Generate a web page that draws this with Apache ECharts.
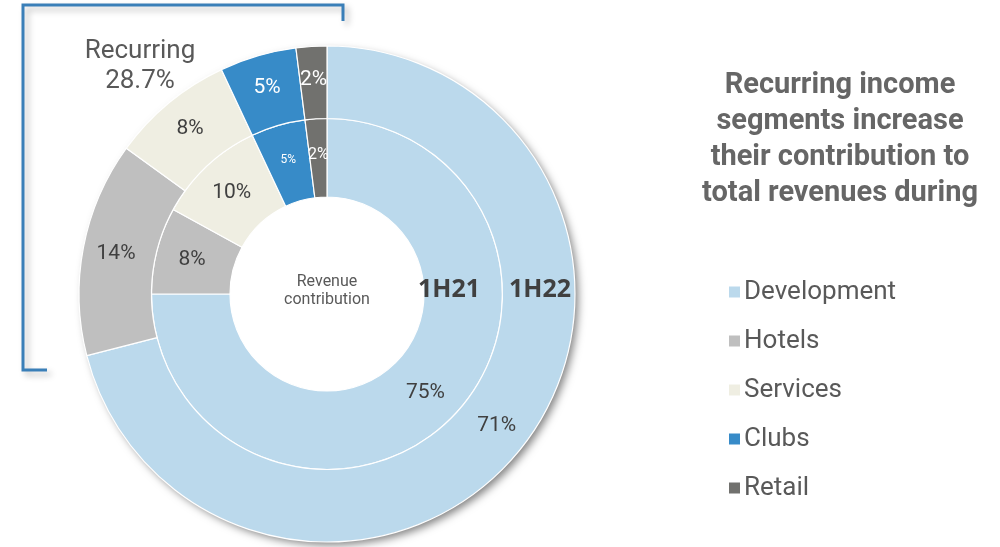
<!DOCTYPE html>
<html>
<head>
<meta charset="utf-8">
<title>Revenue contribution</title>
<script src="https://cdn.jsdelivr.net/npm/echarts@6/dist/echarts.min.js"></script>
<style>
  html, body { margin: 0; padding: 0; background: #ffffff; }
  #chart { width: 1000px; height: 547px; }
</style>
</head>
<body>
<div id="chart"></div>
<script>
// Segments and their share of revenue (%)
const segments = ['Development', 'Hotels', 'Services', 'Clubs', 'Retail'];
const share1H22 = [71, 14, 8, 5, 2];
const share1H21 = [75, 8, 10, 5, 2];
const periods = ['1H21', '1H22'];
const recurringShare = 28.7;

const colors = ['#BBD9EC', '#BFBFBF', '#EFEEE2', '#378BC8', '#71716E'];
const darkText = '#404040';
const greyText = '#595959';

const center = [327, 294];

function ringData(values, sizes) {
  return segments.map((name, i) => {
    const light = i < 3;
    return {
      name,
      value: values[i],
      label: {
        color: light ? darkText : '#ffffff',
        fontSize: sizes[i]
      }
    };
  });
}

const chart = echarts.init(document.getElementById('chart'), null, { renderer: 'canvas' });

chart.setOption({
  animation: false,
  color: colors,
  legend: {
    orient: 'vertical',
    left: 722,
    top: 274,
    itemWidth: 13,
    itemHeight: 13,
    itemGap: 23,
    icon: 'rect',
    data: segments,
    textStyle: {
      fontFamily: 'Roboto',
      fontSize: 26,
      color: greyText,
      padding: [0, 0, 0, -2]
    }
  },
  graphic: [
    // soft shadow behind the outer ring
    {
      type: 'circle',
      shape: { cx: center[0], cy: center[1], r: 247 },
      style: {
        fill: '#ffffff',
        shadowBlur: 8,
        shadowOffsetX: 4,
        shadowOffsetY: 4,
        shadowColor: 'rgba(0,0,0,0.5)'
      },
      z: 0
    },
    // bracket around the recurring segments
    {
      type: 'polyline',
      shape: { points: [[343, 21], [343, 5], [23, 5], [23, 370], [47, 370]] },
      style: {
        stroke: '#3A7FB8',
        lineWidth: 3,
        fill: null,
        shadowBlur: 6,
        shadowOffsetX: 4,
        shadowOffsetY: 4,
        shadowColor: 'rgba(0,0,0,0.25)'
      },
      z: 10
    },
    {
      type: 'text',
      style: {
        text: 'Recurring\n' + recurringShare + '%',
        x: 140, y: 36,
        textAlign: 'center',
        fontFamily: 'Roboto',
        fontSize: 26,
        lineHeight: 30,
        fill: greyText
      },
      z: 10
    },
    {
      type: 'text',
      style: {
        text: 'Revenue\ncontribution',
        x: center[0], y: 273,
        textAlign: 'center',
        fontFamily: 'Roboto',
        fontSize: 16,
        lineHeight: 18,
        fill: greyText
      },
      z: 10
    },
    {
      type: 'text',
      style: {
        text: periods[0],
        x: 449, y: 290,
        textAlign: 'center',
        textVerticalAlign: 'middle',
        fontFamily: 'Open Sans',
        fontWeight: 'bold',
        fontSize: 25,
        fill: darkText
      },
      z: 10
    },
    {
      type: 'text',
      style: {
        text: periods[1],
        x: 540, y: 290,
        textAlign: 'center',
        textVerticalAlign: 'middle',
        fontFamily: 'Open Sans',
        fontWeight: 'bold',
        fontSize: 25,
        fill: darkText
      },
      z: 10
    },
    {
      type: 'text',
      style: {
        text: 'Recurring income\nsegments increase\ntheir contribution to\ntotal revenues during',
        x: 840, y: 68,
        textAlign: 'center',
        fontFamily: 'Roboto',
        fontWeight: 'bold',
        fontSize: 29,
        lineHeight: 36,
        fill: '#666666'
      },
      z: 10
    }
  ],
  series: [
    {
      name: periods[0],
      type: 'pie',
      center: center,
      radius: [97, 175.5],
      startAngle: 90,
      clockwise: true,
      silent: true,
      label: {
        show: true,
        position: 'inside',
        formatter: '{c}%',
        fontFamily: 'Roboto',
        fontSize: 21
      },
      labelLine: { show: false },
      itemStyle: { borderColor: '#ffffff', borderWidth: 1.2 },
      data: ringData(share1H21, [21, 21, 21, 12, 16])
    },
    {
      name: periods[1],
      type: 'pie',
      center: center,
      radius: [175.5, 248],
      startAngle: 90,
      clockwise: true,
      silent: true,
      label: {
        show: true,
        position: 'inside',
        formatter: '{c}%',
        fontFamily: 'Roboto',
        fontSize: 21
      },
      labelLine: { show: false },
      itemStyle: { borderColor: '#ffffff', borderWidth: 1.2 },
      data: ringData(share1H22, [21, 21, 21, 21, 21])
    }
  ]
});
</script>
</body>
</html>
